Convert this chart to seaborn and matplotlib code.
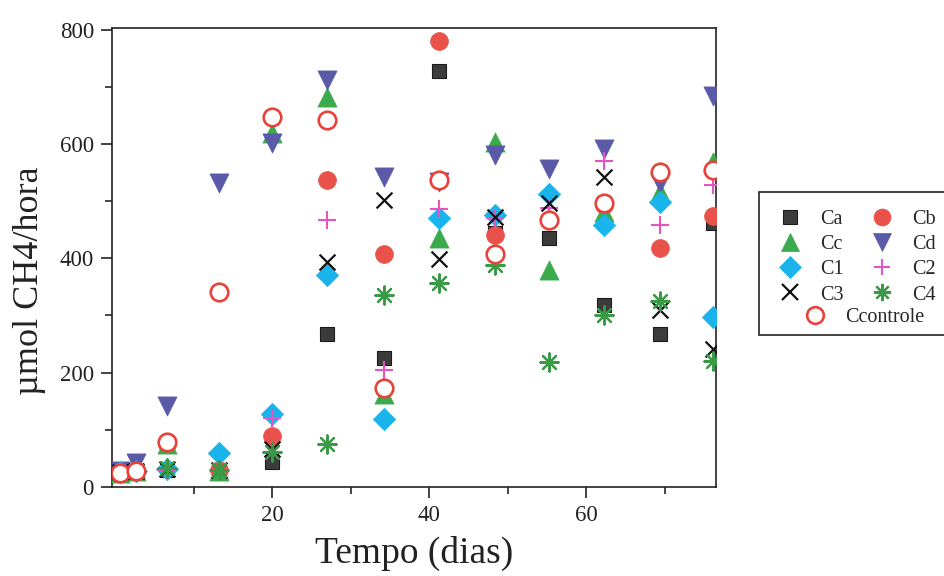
import numpy as np
import pandas as pd
import matplotlib
matplotlib.use("Agg")
import matplotlib.pyplot as plt
from matplotlib.lines import Line2D
from matplotlib.patches import Rectangle
from matplotlib.ticker import MultipleLocator
import seaborn as sns

# Sampling days
dias = [0.6, 2.7, 6.6, 13.2, 20.0, 27.0, 34.2, 41.3, 48.4, 55.3, 62.3, 69.4, 76.1]

# Methane production (umol CH4/hora) per treatment
Ca = [22, 28, 30, 28, 43, 268, 226, 727, 445, 435, 318, 268, 462]
Cb = [25, 28, 75, 30, 89, 537, 408, 780, 440, 467, 494, 418, 474]
Cc = [25, 28, 75, 28, 620, 682, 162, 435, 604, 380, 481, 516, 568]
Cd = [28, 42, 141, 531, 601, 712, 543, 533, 581, 556, 592, 532, 684]
C1 = [27, 28, 32, 60, 127, 370, 119, 470, 475, 513, 458, 498, 297]
C2 = [25, 28, 30, 30, 120, 467, 204, 487, 470, 488, 570, 458, 528]
C3 = [26, 28, 32, 30, 67, 393, 502, 398, 472, 496, 543, 309, 241]
C4 = [25, 28, 34, 30, 62, 75, 335, 356, 388, 218, 300, 326, 221]
Ccontrole = [24, 28, 78, 341, 647, 642, 174, 537, 408, 467, 496, 551, 554]

series = {"Ca": Ca, "Cb": Cb, "Cc": Cc, "Cd": Cd, "C1": C1,
          "C2": C2, "C3": C3, "C4": C4, "Ccontrole": Ccontrole}

df = pd.DataFrame([(n, d, v) for n, vals in series.items() for d, v in zip(dias, vals)],
                  columns=["serie", "dia", "valor"])

# marker, face colour, edge colour, size (pt^2), edge width
estilo = {
    "Ca": ("s", "#3c3c3c", "#1c1c1c", 115, 0.8),
    "Cb": ("o", "#e8524a", "#e8524a", 165, 0.5),
    "Cc": ("^", "#3aaa4c", "#3aaa4c", 190, 0.5),
    "Cd": ("v", "#5a5aa8", "#5a5aa8", 190, 0.5),
    "C1": ("D", "#1ab4ec", "#1ab4ec", 130, 0.5),
    "C2": ("+", "#e455c3", "#e455c3", 150, 1.5),
    "C3": ("x", "#111111", "#111111", 130, 1.6),
    "C4": ((8, 2, 0), "#3a9a48", "#3a9a48", 170, 1.6),
    "Ccontrole": ("o", "white", "#e8423a", 160, 1.9),
}


def linha_arte(mk):
    return isinstance(mk, tuple) or mk in ("+", "x")


sns.set_theme(style="ticks")
plt.rcParams["font.family"] = ["Liberation Serif", "DejaVu Serif"]

fig = plt.figure(figsize=(9.45, 5.76), dpi=100)
ax = fig.add_axes([0.1185, 0.1545, 0.639, 0.797])

for i, (nome, (mk, fc, ec, s, lw)) in enumerate(estilo.items()):
    sub = df[df["serie"] == nome]
    if nome == "Ccontrole":
        sns.scatterplot(data=sub, x="dia", y="valor", marker=mk, s=s,
                        facecolor=fc, edgecolor=ec, linewidth=lw,
                        ax=ax, zorder=3 + i, legend=False)
    elif linha_arte(mk):
        sns.scatterplot(data=sub, x="dia", y="valor", marker=mk, s=s,
                        color=ec, edgecolor=ec, linewidth=lw,
                        ax=ax, zorder=3 + i, legend=False)
    else:
        sns.scatterplot(data=sub, x="dia", y="valor", marker=mk, s=s,
                        color=fc, edgecolor=ec, linewidth=lw,
                        ax=ax, zorder=3 + i, legend=False)

ax.set_xlim(-0.4, 76.5)
ax.set_ylim(0, 803)
ax.set_xticks([20, 40, 60])
ax.set_xticks([10, 30, 50, 70], minor=True)
ax.yaxis.set_major_locator(MultipleLocator(200))
ax.yaxis.set_minor_locator(MultipleLocator(100))

ax.tick_params(which="major", direction="out", length=8, width=1.2,
               labelsize=16.5, pad=5, colors="#222222")
ax.tick_params(which="minor", direction="out", length=5, width=1.2)
ax.tick_params(top=False, right=False)
for sp in ax.spines.values():
    sp.set_visible(True)
    sp.set_linewidth(1.2)
    sp.set_color("#222222")

ax.set_xlabel("Tempo (dias)", fontsize=27, labelpad=7, color="#222222")
ax.set_ylabel("\u00b5mol CH4/hora", fontsize=26, color="#222222")
ax.yaxis.set_label_coords(-0.11, 0.45)


def alca(nome):
    mk, fc, ec, s, lw = estilo[nome]
    if linha_arte(mk):
        return Line2D([], [], linestyle="none", marker=mk, markersize=np.sqrt(s) * 0.95,
                      color=ec, markeredgewidth=lw)
    return Line2D([], [], linestyle="none", marker=mk, markersize=np.sqrt(s) * 0.95,
                  markerfacecolor=fc, markeredgecolor=ec, markeredgewidth=lw)


# Legend frame (extends past the right edge of the figure)
W, H = fig.get_size_inches() * fig.dpi
fig.patches.append(Rectangle((759 / W, 1 - 335 / H), 0.25, 143 / H,
                             transform=fig.transFigure, facecolor="white",
                             edgecolor="#222222", linewidth=1.2, zorder=1))

# Eight treatments in two columns, row-wise: Ca Cb / Cc Cd / C1 C2 / C3 C4
ordem = ["Ca", "Cc", "C1", "C3", "Cb", "Cd", "C2", "C4"]
leg1 = fig.legend([alca(n) for n in ordem], ordem, ncol=2, loc="upper left",
                  bbox_to_anchor=(780 / W, 1 - 210 / H), fontsize=14.5,
                  frameon=False, handlelength=1.0, handletextpad=1.0,
                  columnspacing=1.4, labelspacing=0.3, borderpad=0,
                  borderaxespad=0)
# Control centred on its own row below
leg2 = fig.legend([alca("Ccontrole")], ["Ccontrole"], loc="upper left",
                  bbox_to_anchor=(805 / W, 1 - 308 / H), fontsize=14.5,
                  frameon=False, handlelength=1.0, handletextpad=1.0,
                  borderpad=0, borderaxespad=0)

fig.savefig("out.png", dpi=100)
